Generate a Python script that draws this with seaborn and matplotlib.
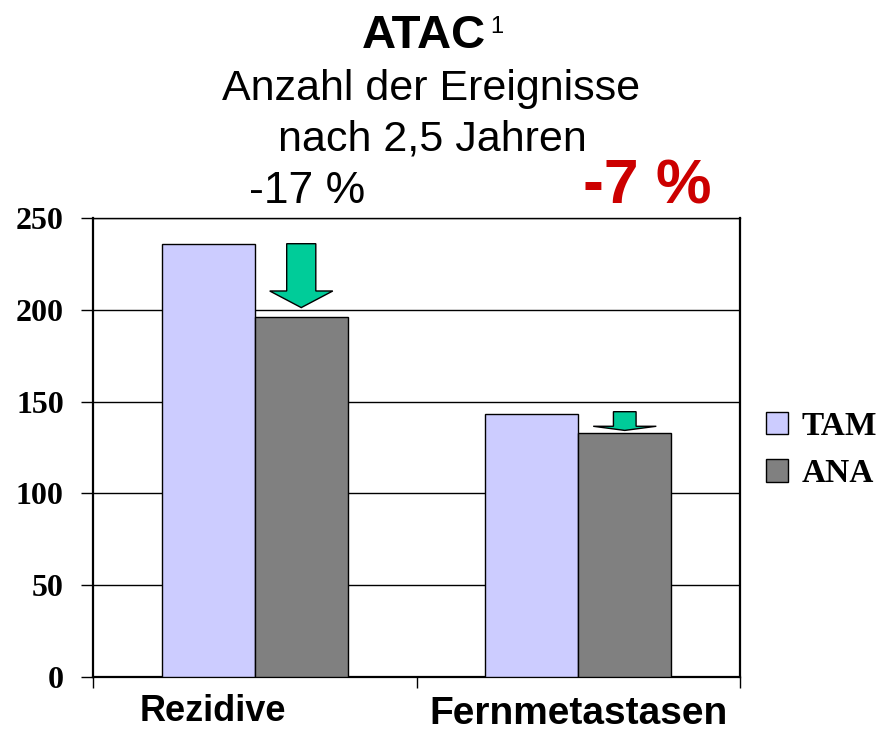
import pandas as pd
import matplotlib
matplotlib.use("Agg")
import matplotlib.pyplot as plt
import matplotlib.transforms as mtransforms
from matplotlib.patches import FancyArrow
import seaborn as sns

# values
categories = ["Rezidive", "Fernmetastasen"]
groups = ["TAM", "ANA"]
tam_values = [236, 143]
ana_values = [196, 133]
change_labels = ["-17 %", "-7 %"]
y_ticks = [0, 50, 100, 150, 200, 250]

df = pd.DataFrame({
    "category": categories * 2,
    "group": ["TAM"] * len(categories) + ["ANA"] * len(categories),
    "value": tam_values + ana_values,
})

sns.set_style("white")
plt.rcParams["font.family"] = ["Liberation Sans", "DejaVu Sans"]
plt.rcParams["text.color"] = "black"
plt.rcParams["xtick.color"] = "black"
plt.rcParams["ytick.color"] = "black"
plt.rcParams["xtick.labelcolor"] = "black"
plt.rcParams["ytick.labelcolor"] = "black"

fig = plt.figure(figsize=(8.77, 7.36), dpi=100)
ax = fig.add_axes([93 / 877, 59 / 736, 647 / 877, 459 / 736])

sns.barplot(data=df, x="category", y="value", hue="group", order=categories,
            hue_order=groups, palette={"TAM": "#CCCCFF", "ANA": "#808080"},
            width=0.575, edgecolor="black", linewidth=1, saturation=1,
            ax=ax, zorder=3)

ax.set_xlim(-0.5, 1.5)
ax.set_ylim(0, 250)
ax.set_yticks(y_ticks)
ax.yaxis.grid(True, color="black", linewidth=1)
ax.set_axisbelow(True)
ax.set_xlabel("")
ax.set_ylabel("")

for side in ["left", "right", "bottom", "top"]:
    ax.spines[side].set_visible(True)
    ax.spines[side].set_color("black")
ax.spines["left"].set_linewidth(1.6)
ax.spines["bottom"].set_linewidth(1.6)
ax.spines["right"].set_linewidth(1.6)
ax.spines["top"].set_linewidth(1)

# y ticks: bold serif numbers
ax.tick_params(axis="y", direction="out", length=9, width=1, pad=12, left=True)
for lab in ax.get_yticklabels():
    lab.set_fontfamily("Liberation Serif")
    lab.set_fontweight("bold")
    lab.set_fontsize(23)

# x ticks at category borders, labels at category centres
ax.set_xticks([-0.5, 0.5, 1.5], minor=True)
ax.tick_params(axis="x", which="minor", direction="out", length=8, width=1, bottom=True)
ax.tick_params(axis="x", which="major", length=0, pad=14)
ax.set_xticks(range(len(categories)))
ax.set_xticklabels(categories)
xl = ax.get_xticklabels()
for lab, size in zip(xl, [26, 28]):
    lab.set_fontweight("bold")
    lab.set_fontsize(size)
xl[0].set_transform(xl[0].get_transform() +
                    mtransforms.ScaledTranslation(-0.42, 0.02, fig.dpi_scale_trans))

# green arrows from TAM level down to ANA bar
offsets = 0.575 / 4
shaft = [0.09, 0.07]
for i, (t, a) in enumerate(zip(tam_values, ana_values)):
    end = a + 0.13 * (t - a)
    length = end - t
    arr = FancyArrow(i + offsets, t + 0.15 * (t - a) * (i > 0), 0,
                     length - 0.15 * (t - a) * (i > 0), width=shaft[i], head_width=0.195,
                     head_length=0.26 * abs(length), length_includes_head=True,
                     facecolor="#00CC99", edgecolor="black", linewidth=1, zorder=5)
    ax.add_patch(arr)

# legend on the right
handles, labels = ax.get_legend_handles_labels()
ax.legend(handles, labels, loc="center left", bbox_to_anchor=(766 / 877, 1 - 450 / 736),
          bbox_transform=fig.transFigure, frameon=False, borderpad=0, borderaxespad=0,
          handlelength=0.66, handleheight=0.66, handletextpad=0.4, labelspacing=0.5,
          prop={"family": "Liberation Serif", "weight": "bold", "size": 24})

# titles
fig.text(424 / 877, 1 - 48 / 736, "ATAC", ha="center", va="baseline",
         fontsize=34, fontweight="bold")
fig.text(490 / 877, 1 - 33 / 736, "1", ha="left", va="baseline", fontsize=17)
fig.text(431 / 877, 1 - 100 / 736, "Anzahl der Ereignisse", ha="center",
         va="baseline", fontsize=31)
fig.text(432 / 877, 1 - 150 / 736, "nach 2,5 Jahren", ha="center",
         va="baseline", fontsize=31)
fig.text(307 / 877, 1 - 203 / 736, change_labels[0], ha="center", va="baseline",
         fontsize=32)
fig.text(647 / 877, 1 - 203 / 736, change_labels[1], ha="center", va="baseline",
         fontsize=45, fontweight="bold", color="#CC0000")

fig.savefig("out.png", dpi=100)
